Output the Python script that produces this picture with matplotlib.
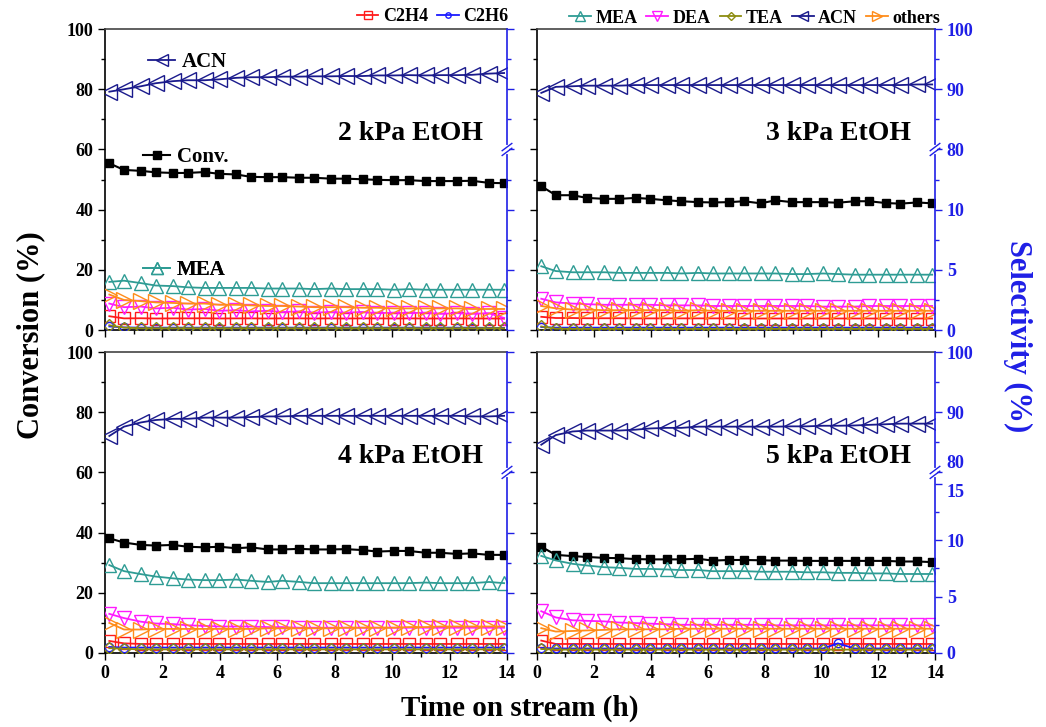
import numpy as np
import matplotlib
matplotlib.use("Agg")
from matplotlib import pyplot as plt
from matplotlib.lines import Line2D

plt.rcParams['font.family'] = ['Liberation Serif', 'DejaVu Serif']
plt.rcParams['font.weight'] = 'bold'

# time on stream (h), same sampling for all four runs
t = [0.15, 0.66, 1.25, 1.76, 2.37, 2.88, 3.47, 3.98, 4.57, 5.08, 5.67, 6.18, 6.77,
     7.28, 7.87, 8.38, 8.97, 9.48, 10.07, 10.58, 11.17, 11.68, 12.27, 12.78, 13.37, 13.9]

# ---- 2 kPa EtOH ----
conv_2 = [55.4, 53.2, 52.9, 52.4, 52.2, 52.2, 52.5, 51.9, 51.7, 50.9, 50.8, 50.8, 50.6,
          50.6, 50.3, 50.3, 50.1, 49.9, 49.8, 49.8, 49.5, 49.5, 49.5, 49.6, 48.9, 48.8]
acn_2 = [89.6, 90.0, 90.5, 91.0, 91.35, 91.5, 91.5, 91.65, 91.9, 92.0, 92.0, 92.1, 92.1,
         92.15, 92.15, 92.2, 92.2, 92.3, 92.3, 92.35, 92.3, 92.35, 92.35, 92.4, 92.6, 92.7]
mea_2 = [4.0, 4.1, 3.9, 3.7, 3.65, 3.55, 3.5, 3.5, 3.5, 3.5, 3.45, 3.45, 3.45,
         3.4, 3.45, 3.4, 3.4, 3.4, 3.35, 3.4, 3.35, 3.35, 3.35, 3.35, 3.35, 3.35]
dea_2 = [2.2, 1.9, 1.95, 1.8, 1.85, 1.7, 1.75, 1.6, 1.65, 1.55, 1.6, 1.5, 1.55,
         1.45, 1.5, 1.45, 1.5, 1.4, 1.45, 1.4, 1.45, 1.35, 1.4, 1.35, 1.4, 1.0]
oth_2 = [2.95, 2.5, 2.4, 2.3, 2.25, 2.2, 2.2, 2.1, 2.1, 2.05, 2.0, 2.0, 1.95,
         1.9, 1.9, 1.9, 1.85, 1.85, 1.8, 1.8, 1.8, 1.8, 1.8, 1.75, 1.75, 1.75]
c2h4_2 = [1.15, 0.97, 0.98, 0.96, 0.97, 0.97, 0.98, 0.96, 0.97, 0.97, 0.96, 0.97, 0.97,
          0.96, 0.97, 0.96, 0.97, 0.97, 0.96, 0.97, 0.96, 0.96, 0.97, 0.96, 0.96, 0.95]
c2h6_2 = [0.3, 0.22, 0.2, 0.2, 0.2, 0.2, 0.2, 0.2, 0.2, 0.2, 0.2, 0.2, 0.2,
          0.2, 0.2, 0.2, 0.2, 0.2, 0.2, 0.2, 0.2, 0.2, 0.2, 0.2, 0.18, 0.18]
tea_2 = [0.4, 0.2, 0.15, 0.15, 0.15, 0.15, 0.15, 0.15, 0.15, 0.15, 0.15, 0.15, 0.15,
         0.15, 0.15, 0.15, 0.15, 0.15, 0.15, 0.15, 0.15, 0.15, 0.15, 0.15, 0.15, 0.15]

# ---- 3 kPa EtOH ----
conv_3 = [47.8, 44.8, 44.8, 43.9, 43.6, 43.6, 43.9, 43.6, 43.1, 42.8, 42.5, 42.4, 42.5,
          42.8, 42.1, 43.1, 42.5, 42.5, 42.5, 42.3, 42.8, 42.8, 42.2, 42.0, 42.4, 42.1]
acn_3 = [89.4, 90.4, 90.5, 90.6, 90.6, 90.6, 90.7, 90.7, 90.7, 90.7, 90.7, 90.7, 90.7,
         90.7, 90.7, 90.7, 90.7, 90.7, 90.7, 90.7, 90.7, 90.7, 90.7, 90.7, 90.8, 90.8]
mea_3 = [5.3, 4.9, 4.8, 4.8, 4.8, 4.75, 4.75, 4.75, 4.75, 4.7, 4.75, 4.7, 4.7,
         4.7, 4.7, 4.7, 4.65, 4.65, 4.7, 4.65, 4.6, 4.6, 4.6, 4.6, 4.6, 4.6]
dea_3 = [2.6, 2.3, 2.2, 2.15, 2.1, 2.1, 2.1, 2.1, 2.05, 2.05, 2.05, 2.0, 2.0,
         2.0, 2.0, 2.0, 2.0, 2.0, 1.95, 1.95, 1.95, 2.0, 2.0, 2.0, 2.0, 2.0]
oth_3 = [2.0, 1.8, 1.7, 1.7, 1.65, 1.65, 1.65, 1.65, 1.65, 1.6, 1.65, 1.6, 1.6,
         1.6, 1.6, 1.6, 1.6, 1.6, 1.6, 1.6, 1.6, 1.6, 1.6, 1.6, 1.6, 1.6]
c2h4_3 = [1.1, 1.0, 1.0, 0.98, 0.98, 0.98, 0.97, 0.97, 0.97, 0.97, 0.97, 0.97, 0.97,
          0.96, 0.96, 0.96, 0.96, 0.96, 0.96, 0.96, 0.96, 0.96, 0.96, 0.96, 0.96, 0.96]
c2h6_3 = [0.25, 0.2, 0.2, 0.2, 0.2, 0.2, 0.2, 0.2, 0.2, 0.2, 0.2, 0.2, 0.2,
          0.2, 0.2, 0.2, 0.2, 0.2, 0.2, 0.2, 0.2, 0.2, 0.2, 0.2, 0.2, 0.2]
tea_3 = [0.3, 0.12, 0.1, 0.1, 0.1, 0.1, 0.1, 0.1, 0.1, 0.1, 0.1, 0.1, 0.1,
         0.1, 0.1, 0.1, 0.1, 0.1, 0.1, 0.1, 0.1, 0.1, 0.1, 0.1, 0.1, 0.1]

# ---- 4 kPa EtOH ----
conv_4 = [38.1, 36.7, 35.9, 35.7, 35.9, 35.3, 35.1, 35.3, 34.8, 35.1, 34.4, 34.4, 34.6,
          34.4, 34.4, 34.5, 34.2, 33.7, 33.9, 33.9, 33.3, 33.3, 32.9, 33.1, 32.6, 32.6]
acn_4 = [86.05, 87.6, 88.3, 88.7, 88.9, 88.9, 89.1, 89.1, 89.1, 89.2, 89.3, 89.3, 89.4,
         89.4, 89.4, 89.4, 89.4, 89.4, 89.4, 89.4, 89.4, 89.4, 89.4, 89.3, 89.3, 89.4]
mea_4 = [7.3, 6.8, 6.55, 6.35, 6.2, 6.1, 6.05, 6.05, 6.1, 6.0, 5.9, 6.0, 5.9,
         5.8, 5.8, 5.8, 5.8, 5.8, 5.8, 5.8, 5.85, 5.8, 5.8, 5.8, 5.9, 5.8]
dea_4 = [3.25, 2.9, 2.6, 2.45, 2.4, 2.3, 2.25, 2.2, 2.2, 2.2, 2.15, 2.15, 2.1,
         2.1, 2.1, 2.1, 2.1, 2.1, 2.1, 2.1, 2.1, 2.1, 2.1, 2.1, 2.1, 2.1]
oth_4 = [2.5, 1.95, 1.95, 2.0, 2.0, 2.0, 2.0, 2.0, 2.0, 2.0, 2.05, 2.05, 2.05,
         2.05, 2.05, 2.1, 2.1, 2.1, 2.1, 2.15, 2.15, 2.2, 2.2, 2.2, 2.2, 2.2]
c2h4_4 = [1.0, 0.8, 0.75, 0.75, 0.75, 0.75, 0.75, 0.75, 0.75, 0.75, 0.75, 0.75, 0.75,
          0.75, 0.75, 0.75, 0.75, 0.75, 0.75, 0.75, 0.75, 0.75, 0.75, 0.75, 0.75, 0.75]
c2h6_4 = [0.5, 0.45, 0.45, 0.45, 0.45, 0.45, 0.45, 0.45, 0.45, 0.45, 0.45, 0.45, 0.45,
          0.45, 0.45, 0.45, 0.45, 0.45, 0.45, 0.45, 0.45, 0.45, 0.45, 0.45, 0.45, 0.45]
tea_4 = [0.4, 0.35, 0.3, 0.3, 0.3, 0.3, 0.3, 0.3, 0.3, 0.3, 0.3, 0.3, 0.3,
         0.3, 0.3, 0.3, 0.3, 0.3, 0.3, 0.3, 0.3, 0.3, 0.3, 0.3, 0.3, 0.3]

# ---- 5 kPa EtOH ----
conv_5 = [35.3, 32.6, 32.2, 31.9, 31.6, 31.5, 31.2, 31.1, 31.1, 31.1, 31.3, 30.7, 30.9,
          30.9, 30.8, 30.7, 30.7, 30.6, 30.6, 30.6, 30.6, 30.6, 30.6, 30.4, 30.4, 30.2]
acn_5 = [84.6, 86.2, 86.8, 86.95, 86.95, 86.95, 87.1, 87.3, 87.4, 87.4, 87.6, 87.6, 87.6,
         87.6, 87.6, 87.6, 87.65, 87.65, 87.75, 87.75, 87.8, 87.9, 88.0, 88.1, 88.1, 88.1]
mea_5 = [8.6, 8.2, 7.9, 7.75, 7.6, 7.55, 7.45, 7.45, 7.4, 7.35, 7.35, 7.25, 7.25,
         7.25, 7.2, 7.2, 7.2, 7.15, 7.15, 7.1, 7.1, 7.05, 7.05, 7.0, 7.0, 7.0]
dea_5 = [3.7, 3.15, 2.9, 2.85, 2.8, 2.7, 2.65, 2.6, 2.55, 2.5, 2.5, 2.5, 2.5,
         2.5, 2.5, 2.45, 2.45, 2.45, 2.45, 2.45, 2.45, 2.45, 2.45, 2.45, 2.45, 2.45]
oth_5 = [2.2, 1.9, 1.95, 2.0, 2.05, 2.1, 2.1, 2.1, 2.1, 2.15, 2.15, 2.15, 2.15,
         2.15, 2.15, 2.15, 2.15, 2.15, 2.15, 2.15, 2.15, 2.15, 2.15, 2.15, 2.15, 2.15]
c2h4_5 = [1.1, 0.8, 0.8, 0.8, 0.8, 0.8, 0.8, 0.8, 0.8, 0.8, 0.8, 0.8, 0.8,
          0.8, 0.8, 0.8, 0.8, 0.8, 0.8, 0.8, 0.8, 0.8, 0.8, 0.8, 0.8, 0.8]
c2h6_5 = [0.45, 0.4, 0.4, 0.4, 0.4, 0.4, 0.4, 0.4, 0.4, 0.4, 0.4, 0.4, 0.4,
          0.4, 0.4, 0.4, 0.4, 0.4, 0.4, 0.85, 0.4, 0.4, 0.4, 0.4, 0.4, 0.4]
tea_5 = [0.35, 0.3, 0.3, 0.3, 0.3, 0.3, 0.3, 0.3, 0.3, 0.3, 0.3, 0.3, 0.3,
         0.3, 0.3, 0.3, 0.3, 0.3, 0.3, 0.3, 0.3, 0.3, 0.3, 0.3, 0.3, 0.3]

names = ['C2H4', 'C2H6', 'MEA', 'DEA', 'TEA', 'ACN', 'others']
colors = ['#ff1a1a', '#1a1aff', '#2e9c94', '#ff1aff', '#8c8c10', '#1a1a8c', '#ff8c1a']
markers = ['s', 'o', '^', 'v', 'D', '<', '>']
msizes = [8, 6, 10, 10, 6, 11, 11]

BLUE = '#1f1fe6'


def sel_scale(low_max):
    def fwd(s):
        return np.interp(s, [0, low_max, 80, 100], [0, 60, 60, 100])

    def inv(c):
        return np.interp(c, [0, 60, 60.000001, 100], [0, low_max, 80, 100])
    return fwd, inv


def panel(rect, conv, sels, low_max, title, left_lab, right_lab, x_lab):
    ax = fig.add_axes(rect)
    ax2 = ax.twinx()
    ax.plot(t, conv, color='black', lw=1.5, marker='s', ms=6, zorder=5)
    ax.set_xlim(0, 14)
    ax.set_ylim(0, 100)
    ax.set_xticks(range(0, 15, 2))
    ax.set_xticks(range(0, 15), minor=True)
    ax.set_yticks(range(0, 101, 20))
    ax.set_yticks(range(0, 101, 10), minor=True)
    ax.tick_params(which='both', direction='out', width=1, labelsize=13)
    ax.tick_params(which='major', length=5)
    ax.tick_params(which='minor', length=3)
    if not left_lab:
        ax.set_yticklabels([])
    if not x_lab:
        ax.set_xticklabels([])

    fwd, inv = sel_scale(low_max)
    ax2.set_yscale('function', functions=(fwd, inv))
    for s, c, m, ms in zip(sels, colors, markers, msizes):
        ax2.plot(t, s, color=c, lw=1.3, marker=m, ms=ms, mfc='none', mec=c, mew=1)
    ax2.set_ylim(0, 100)
    major = [0, 5, 10] + ([15] if low_max > 15 else []) + [80, 90, 100]
    ax2.set_yticks(major)
    ax2.set_yticks([2.5, 7.5, 12.5, 85, 95], minor=True)
    ax2.tick_params(which='both', direction='out', width=1, colors=BLUE, labelsize=13)
    ax2.tick_params(which='major', length=5)
    ax2.tick_params(which='minor', length=3)
    if not right_lab:
        ax2.set_yticklabels([])
    elif low_max > 15:
        # 15 and 80 sit close together on the broken axis: push them apart
        for tick, v in zip(ax2.yaxis.get_major_ticks(), major):
            if v == 80:
                tick.label2.set_verticalalignment('bottom')
            elif v == 15:
                tick.label2.set_verticalalignment('top')
    for side in ['left', 'top', 'bottom']:
        ax2.spines[side].set_visible(False)
        ax.spines[side].set_linewidth(1.2)
    ax.spines['right'].set_visible(False)
    ax2.spines['right'].set_color(BLUE)
    ax2.spines['right'].set_linewidth(1.2)
    ax.spines['top'].set_color('#444444')

    # break marks on the selectivity axis
    ax2.plot([1, 1], [0.592, 0.608], color='white', lw=3, transform=ax2.transAxes,
             clip_on=False, zorder=10)
    for d in (-0.008, 0.008):
        ax2.plot([0.988, 1.012], [0.588 + d, 0.612 + d], color=BLUE, lw=1,
                 transform=ax2.transAxes, clip_on=False, zorder=11)

    ax2.text(0.94, 0.63, title, transform=ax2.transAxes, ha='right', va='baseline',
             fontsize=20, fontweight='bold')
    return ax, ax2


fig = plt.figure(figsize=(10.46, 7.27), dpi=100)

ax_a, ax_a2 = panel([0.1004, 0.546, 0.3843, 0.414], conv_2,
                    [c2h4_2, c2h6_2, mea_2, dea_2, tea_2, acn_2, oth_2], 15,
                    '2 kPa EtOH', True, False, False)
panel([0.5134, 0.546, 0.3805, 0.414], conv_3,
      [c2h4_3, c2h6_3, mea_3, dea_3, tea_3, acn_3, oth_3], 15,
      '3 kPa EtOH', False, True, False)
panel([0.1004, 0.1018, 0.3843, 0.414], conv_4,
      [c2h4_4, c2h6_4, mea_4, dea_4, tea_4, acn_4, oth_4], 15,
      '4 kPa EtOH', True, False, True)
panel([0.5134, 0.1018, 0.3805, 0.414], conv_5,
      [c2h4_5, c2h6_5, mea_5, dea_5, tea_5, acn_5, oth_5], 16,
      '5 kPa EtOH', False, True, True)

# legend handles
handles = [Line2D([], [], color=c, lw=1.3, marker=m, ms=ms * 0.65, mfc='none', mec=c)
           for c, m, ms in zip(colors, markers, msizes)]
conv_handle = Line2D([], [], color='black', lw=1.5, marker='s', ms=6)

leg_kw = dict(frameon=False, borderpad=0, borderaxespad=0, handlelength=1.2,
              handletextpad=0.25, columnspacing=0.5,
              prop={'family': 'Liberation Serif', 'weight': 'bold', 'size': 13})
fig.legend(handles[:2], names[:2], ncol=2, loc='center right',
           bbox_to_anchor=(0.486, 0.977), **leg_kw)
fig.legend(handles[2:], names[2:], ncol=5, loc='center right',
           bbox_to_anchor=(0.899, 0.975), **leg_kw)

# inline labels in the first panel
inline_kw = dict(frameon=False, borderpad=0, borderaxespad=0, handlelength=1.3,
                 handletextpad=0.3, loc='center left',
                 prop={'family': 'Liberation Serif', 'weight': 'bold', 'size': 15})
for h, lab, pos in [(Line2D([], [], color=colors[5], lw=1.3, marker='<', ms=9, mfc='none',
                            mec=colors[5]), 'ACN', (0.107, 0.89)),
                    (conv_handle, 'Conv.', (0.095, 0.575)),
                    (Line2D([], [], color=colors[2], lw=1.3, marker='^', ms=9, mfc='none',
                            mec=colors[2]), 'MEA', (0.095, 0.2))]:
    lg = ax_a2.legend([h], [lab], bbox_to_anchor=pos, **inline_kw)
    ax_a2.add_artist(lg)

fig.text(0.029, 0.539, 'Conversion (%)', rotation=90, ha='center', va='center',
         fontsize=22, fontweight='bold')
fig.text(0.973, 0.537, 'Selectivity (%)', rotation=270, ha='center', va='center',
         fontsize=22, fontweight='bold', color=BLUE)
fig.text(0.497, 0.026, 'Time on stream (h)', ha='center', va='center',
         fontsize=21, fontweight='bold')

fig.savefig('out.png', dpi=100)
